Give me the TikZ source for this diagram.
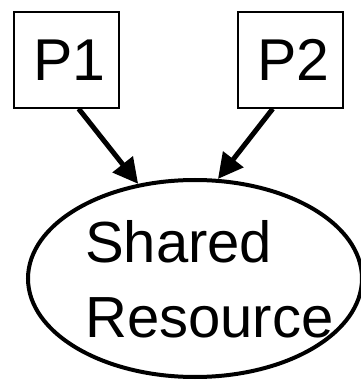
\documentclass[tikz,border=0pt]{standalone}
\usepackage{fontspec}
\setmainfont{Liberation Sans}
\usetikzlibrary{arrows.meta,shapes.geometric}
\begin{document}
\begin{tikzpicture}[x=1pt,y=1pt,
  proc/.style={draw, line width=1.5pt, minimum width=105pt, minimum height=96pt, inner sep=0pt, font=\fontsize{59}{70}\selectfont},
  res/.style={draw, ellipse, line width=4pt, minimum width=334pt, minimum height=197pt, inner sep=0pt},
  lbl/.style={align=left, inner sep=0pt, font=\fontsize{58}{76}\selectfont},
  arr/.style={line width=5pt, -{Triangle[length=25pt,width=25pt]}}]
\useasboundingbox (0,0) rectangle (361,381);
\node[proc] (p1) at (66.5,321) {\hspace*{6pt}P1};
\node[proc] (p2) at (290.5,321) {\hspace*{6pt}P2};
\node[res] (r) at (195,102.5) {};
\node[lbl, anchor=base west] (t) at (85,43) {Shared\\Resource};
\draw[arr] (p1.-76.5) -- (r.121);
\draw[arr] (p2.-110) -- (r.77);
\end{tikzpicture}
\end{document}
